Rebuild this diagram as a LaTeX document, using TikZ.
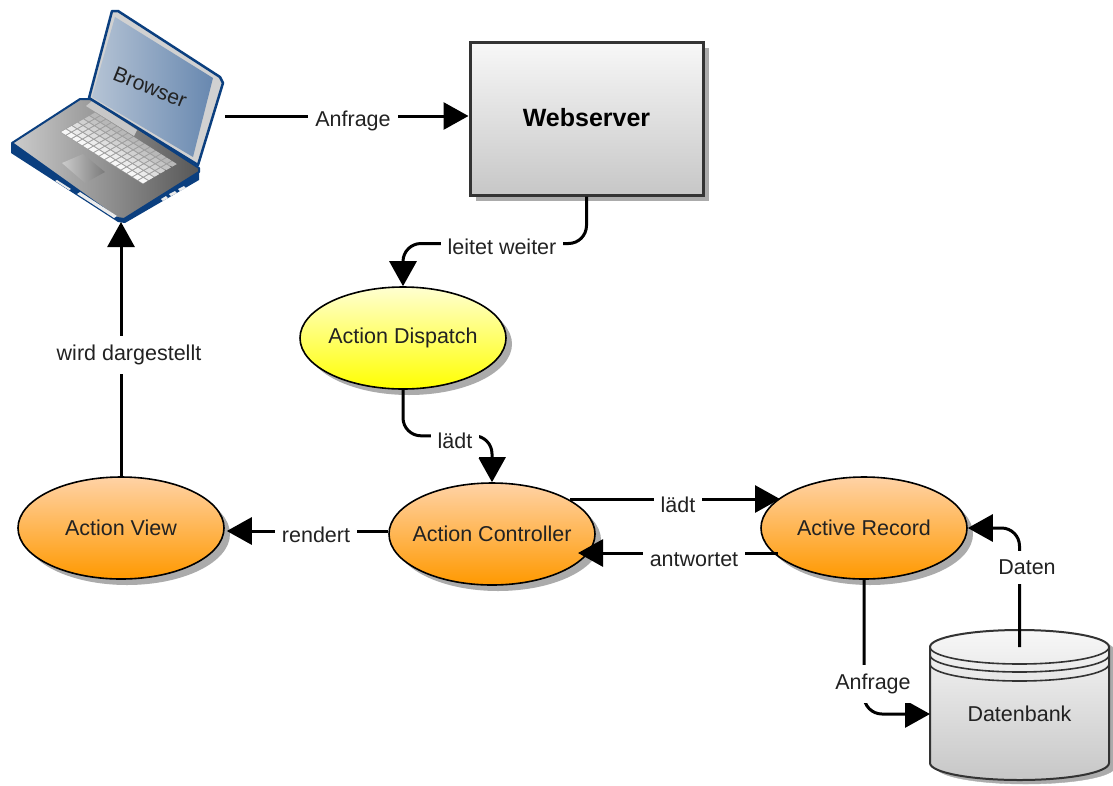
\documentclass[tikz,border=0pt]{standalone}
\usepackage{fontspec}
\setmainfont{Liberation Sans}
\usetikzlibrary{arrows.meta,shapes.geometric,shadows,calc}
\definecolor{lapblue}{HTML}{0B3F7F}
\definecolor{txt}{HTML}{222222}
\tikzset{
  shapeshadow/.style={general shadow={fill=black!33,shadow xshift=6pt,shadow yshift=-6pt}},
  oval/.style={ellipse,draw=black,line width=1.6pt,minimum width=206pt,minimum height=102pt,inner sep=-30pt,shapeshadow,text=txt,font=\fontsize{21.5}{24}\selectfont},
  yellowoval/.style={oval,top color=yellow!18,bottom color=yellow},
  orangeoval/.style={oval,top color=orange!35,bottom color=orange!80!yellow},
  serverbox/.style={draw=black!80,line width=3pt,minimum width=233pt,minimum height=153pt,inner sep=0pt,top color=black!3,bottom color=black!22,shapeshadow,text=black,font=\bfseries\fontsize{25}{28}\selectfont},
  ghost/.style={inner sep=0pt,outer sep=0pt},
  conn/.style={line width=3pt,black,-{Triangle[length=25pt,width=27pt]},rounded corners=18pt},
  lab/.style={fill=white,text=txt,inner xsep=7pt,inner ysep=9pt,font=\fontsize{21.5}{24}\selectfont},
}
\begin{document}
\begin{tikzpicture}[x=1pt,y=-1pt]
\useasboundingbox (0,0) rectangle (1113,785);
% nodes
\node[serverbox] (web) at (586.5,118.5) {\raisebox{2pt}{Webserver}};
\node[yellowoval] (disp) at (403,338) {Action Dispatch};
\node[orangeoval] (ctrl) at (492,534) {Action Controller};
\node[orangeoval] (view) at (121,528) {Action View};
\node[orangeoval] (rec) at (864,528) {Active Record};
\node[ghost,minimum width=214pt,minimum height=212pt] (laptop) at (118,116) {};
\node[ghost,minimum width=179pt,minimum height=148pt] (db) at (1019.5,704) {};
% laptop
\fill[lapblue,line join=round] (11,143)--(11,153)--(118,222)--(125,223)--(199,180)--(199,170)--(122,205)--cycle;
\shade[left color=black!20,middle color=black!58,right color=black!66,draw=lapblue,line width=2pt,line join=round]
  (12,143)--(80,99)--(92,99)--(199,168)--(199,172)--(124,219)--(117,218)--cycle;
\fill[black!22] (92,101)--(137,130)--(134,136)--(86,106)--cycle;
\fill[white!85!gray] (80,192)--(117,216)--(114,218)--(77,194)--cycle;
\fill[white!85!gray] (161,199)--(166,196)--(168,198)--(163,201)--cycle;
\fill[white!85!gray] (169,194)--(175,191)--(177,193)--(171,196)--cycle;
\fill[white!85!gray] (178,189)--(184,186)--(186,188)--(180,191)--cycle;
\fill[white!85!gray] (57,180)--(71,189)--(69,190)--(55,181)--cycle;
\fill[black!38] (60,132)--(95,112)--(175,163)--(143,184)--cycle;
\begin{scope}[shift={(60,132)},x={(5.53pt,-3.47pt)},y={(5.83pt,3.33pt)}]
\foreach \i in {0,...,14}{
  \foreach \j in {0,...,5}{
    \pgfmathsetmacro{\shadeval}{int(3+\j*5)}
    \fill[black!\shadeval]
      ({\i+.1},{\j+.1})--({\i+.9},{\j+.1})--({\i+.9},{\j+.9})--({\i+.1},{\j+.9})--cycle;
  }
}
\end{scope}
\shade[left color=black!20,right color=black!52] (62,163)--(83,154)--(105,172)--(85,183)--cycle;
\filldraw[fill=black!18,draw=lapblue,line width=2.5pt,line join=round]
  (112,11)--(118,11)--(220,77)--(223,83)--(198,165)--(89,98)--cycle;
\shade[left color=black!10!lapblue!30,right color=lapblue!62!white]
  (115,17)--(213,78)--(193,157)--(92,97)--cycle;
\node[ghost,rotate=-22,text=txt,font=\fontsize{21}{24}\selectfont] (browser) at (150,87) {Browser};
% database
\filldraw[black!33] (936,651) arc[start angle=180,end angle=360,x radius=89.5,y radius=17]
  -- (1115,767) arc[start angle=0,end angle=180,x radius=89.5,y radius=17] -- cycle;
\path[draw=black!80,line width=2pt,top color=black!3,bottom color=black!22]
  (930,647) arc[start angle=180,end angle=360,x radius=89.5,y radius=17]
  -- (1109,763) arc[start angle=0,end angle=180,x radius=89.5,y radius=17] -- cycle;
\foreach \yy in {647,655,664}{
  \draw[black!80,line width=1.6pt] (930,\yy) arc[start angle=180,end angle=0,x radius=89.5,y radius=17];
}
\node[ghost,text=txt,font=\fontsize{21.5}{24}\selectfont] (dbtext) at (1019.5,714) {Datenbank};
% connectors
\draw[conn] (laptop.east) -- (web.west |- laptop.east);
\draw[conn] (web.south) -- ++(0,47) -| (disp.north);
\draw[conn] (disp.south) -- ++(0,46) -| (ctrl.north);
\draw[conn] (view.north) -- (view.north |- laptop.south);
\draw[conn] ($(ctrl.west)+(0,-3)$) -- ($(view.east)+(2,3)$);
\draw[conn] ($(ctrl.center)+(78,-35)$) -- ($(rec.center)+(-84,-29)$);
\draw[conn] ($(rec.center)+(-86,25)$) -- ($(ctrl.center)+(86,19)$);
\draw[conn] ($(db.north)+(0,17)$) |- (rec.east);
\draw[conn] (rec.south) |- ($(db.west)+(0,10)$);
% labels
\node[lab] (l1) at (353,121) {Anfrage};
\node[lab] (l2) at (502,247) {leitet weiter};
\node[lab] (l3) at (129,355) {wird dargestellt};
\node[lab] (l4) at (455,441) {lädt};
\node[lab] (l5) at (316,535) {rendert};
\node[lab] (l6) at (678,505) {lädt};
\node[lab] (l7) at (694,560) {antwortet};
\node[lab] (l8) at (1027,567) {Daten};
\node[lab] (l9) at (873,684) {Anfrage};
\end{tikzpicture}
\end{document}
